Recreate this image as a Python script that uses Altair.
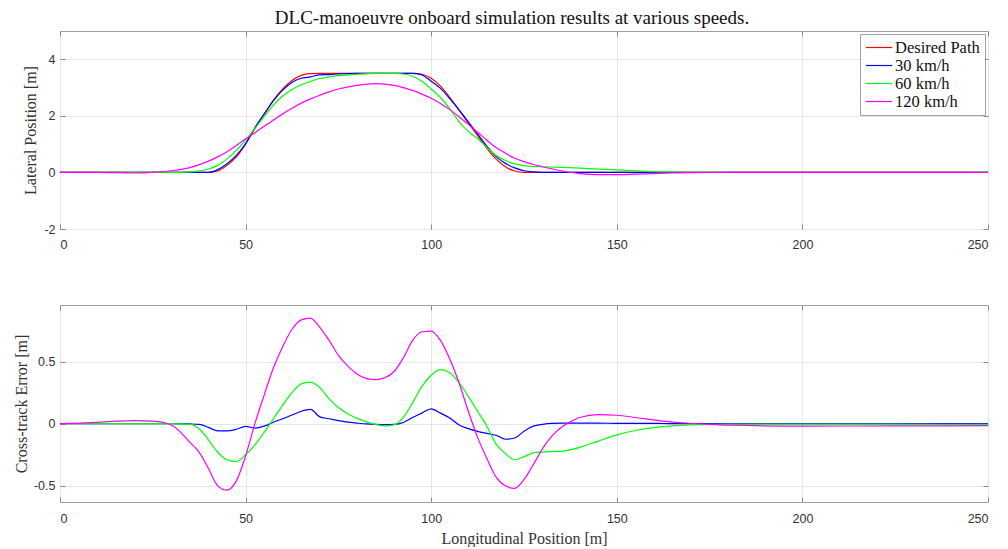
import altair as alt
import pandas as pd

SERIES = ["Desired Path", "30 km/h", "60 km/h", "120 km/h"]
COLORS = ["#ff0000", "#0000ff", "#00ff00", "#ff00ff"]
X_TICKS = [0, 50, 100, 150, 200, 250]
LAT_TICKS = [-2, 0, 2, 4]
ERR_TICKS = [-0.5, 0, 0.5]

# ---- Lateral position (top panel) ----
lat_x = [0, 10, 20, 25, 30, 35, 40,
         42.5, 45, 47.5, 50, 52.5, 55, 57.5, 60, 62.5, 65, 67.5, 70, 72.5, 75,
         80, 85, 90,
         92.5, 95, 97.5, 100, 102.5, 105, 107.5, 110, 112.5, 115, 117.5, 120, 122.5, 125, 127.5, 130,
         135, 140, 145, 150, 155, 160, 165, 170,
         180, 200, 225, 250]
lat_desired = [0, 0, 0, 0, 0, 0, 0,
               0.05, 0.25, 0.55, 1.0, 1.55, 2.05, 2.55, 2.95, 3.25, 3.43, 3.49, 3.5, 3.5, 3.5,
               3.5, 3.5, 3.5,
               3.5, 3.5, 3.47, 3.33, 3.05, 2.65, 2.2, 1.75, 1.3, 0.85, 0.47, 0.2, 0.05, 0, 0, 0,
               0, 0, 0, 0, 0, 0, 0, 0,
               0, 0, 0, 0]
lat_30 = [0, 0, 0, 0, 0, 0, 0,
          0.1, 0.31, 0.6, 1.02, 1.58, 2.07, 2.54, 2.91, 3.18, 3.33, 3.38, 3.45, 3.46, 3.48,
          3.5, 3.5, 3.5,
          3.5, 3.5, 3.45, 3.22, 2.97, 2.61, 2.21, 1.79, 1.36, 0.93, 0.56, 0.32, 0.16, 0.06, 0.02, 0.005,
          0, 0, 0, 0, 0, 0, 0, 0,
          0, 0, 0, 0]
lat_60 = [0, 0, 0, 0, 0, 0.02, 0.12,
          0.25, 0.48, 0.78, 1.15, 1.55, 1.98, 2.38, 2.7, 2.93, 3.1, 3.22, 3.32, 3.38, 3.42,
          3.47, 3.5, 3.5,
          3.48, 3.4, 3.22, 2.95, 2.65, 2.25, 1.8, 1.45, 1.2, 0.88, 0.6, 0.42, 0.3, 0.24, 0.21, 0.2,
          0.18, 0.15, 0.12, 0.09, 0.06, 0.03, 0.015, 0.005,
          0, 0, 0, 0]
lat_120 = [0, 0, -0.02, 0.0, 0.06, 0.17, 0.4,
           0.55, 0.73, 0.95, 1.18, 1.4, 1.63, 1.85, 2.07, 2.27, 2.45, 2.6, 2.73, 2.85, 2.95,
           3.08, 3.14, 3.08,
           3.0, 2.9, 2.77, 2.62, 2.44, 2.22, 1.97, 1.7, 1.42, 1.14, 0.88, 0.68, 0.5, 0.38, 0.28, 0.2,
           0.06, -0.04, -0.08, -0.08, -0.06, -0.04, -0.02, -0.005,
           0, 0, 0, 0]

# ---- Cross-track error (bottom panel) ----
err_x = [0, 10, 15, 20, 25, 30, 35,
         37.5, 40, 42.5, 45, 47.5, 50, 52.5, 55, 57.5, 60, 62.5, 65, 67.5, 70,
         72.5, 75, 77.5, 80, 82.5, 85, 87.5, 90, 92.5, 95, 97.5, 100, 102.5, 105,
         107.5, 110, 112.5, 115, 117.5, 120, 122.5, 125, 127.5, 130, 132.5, 135, 137.5, 140,
         145, 150, 155, 160, 165, 170, 175, 180,
         200, 225, 250]
err_30 = [0, 0, 0, 0, 0, 0, -0.002,
          -0.005, -0.03, -0.058, -0.058, -0.045, -0.022, -0.035, -0.02, 0.012, 0.04, 0.07, 0.1, 0.115, 0.055,
          0.04, 0.025, 0.013, 0.005, -0.002, -0.006, -0.008, -0.006, 0.01, 0.05, 0.085, 0.12, 0.085, 0.045,
          -0.01, -0.04, -0.062, -0.078, -0.093, -0.125, -0.115, -0.06, -0.02, -0.005, 0.003, 0.005, 0.005, 0.005,
          0.004, 0.003, 0.002, 0.002, 0.001, 0.001, 0, 0,
          0, 0, 0]
err_60 = [0, 0, 0, 0, 0, 0, -0.005,
          -0.04, -0.13, -0.23, -0.29, -0.305, -0.25, -0.17, -0.07, 0.04, 0.15, 0.25, 0.32, 0.335, 0.29,
          0.2, 0.13, 0.08, 0.045, 0.015, -0.005, -0.018, -0.01, 0.05, 0.17, 0.3, 0.39, 0.435, 0.41,
          0.33, 0.22, 0.1, -0.02, -0.165, -0.24, -0.29, -0.265, -0.235, -0.228, -0.224, -0.222, -0.21, -0.19,
          -0.14, -0.09, -0.055, -0.032, -0.018, -0.01, -0.005, -0.003,
          -0.003, -0.004, -0.005]
err_120 = [0, 0.01, 0.02, 0.025, 0.02, -0.01, -0.15,
           -0.23, -0.36, -0.5, -0.535, -0.46, -0.26, 0.0, 0.23, 0.45, 0.62, 0.76, 0.835, 0.85, 0.775,
           0.67, 0.55, 0.465, 0.4, 0.365, 0.355, 0.37, 0.42, 0.53, 0.67, 0.74, 0.745, 0.67, 0.52,
           0.33, 0.1, -0.11, -0.28, -0.43, -0.5, -0.52, -0.45, -0.33, -0.2, -0.1, -0.03, 0.015, 0.05,
           0.073, 0.068, 0.05, 0.03, 0.013, 0.003, -0.006, -0.012,
           -0.019, -0.018, -0.016]


def long_frame(xs, series_dict):
    rows = []
    for name in SERIES:
        if name in series_dict:
            for xv, yv in zip(xs, series_dict[name]):
                rows.append({"x": xv, "y": yv, "series": name})
    return pd.DataFrame(rows)


lat_df = long_frame(lat_x, {"Desired Path": lat_desired, "30 km/h": lat_30,
                            "60 km/h": lat_60, "120 km/h": lat_120})
err_df = long_frame(err_x, {"30 km/h": err_30, "60 km/h": err_60, "120 km/h": err_120})

SERIF = "Liberation Serif"
SANS = "Liberation Sans"
TICK_COLOR = "#8a8a8a"
INWARD = alt.ExprRef(expr="-5")

color_scale = alt.Scale(domain=SERIES, range=COLORS)
x_scale = alt.Scale(domain=[0, 250], nice=False)


def ghost_layer(df, y_scale, y_ticks):
    # invisible copy that carries the inward ticks of the top and right sides
    return alt.Chart(df).mark_line(opacity=0).encode(
        x=alt.X("x:Q", scale=x_scale,
                axis=alt.Axis(orient="top", values=X_TICKS, labels=False, title=None,
                              grid=False, ticks=True, tickSize=INWARD,
                              tickColor=TICK_COLOR)),
        y=alt.Y("y:Q", scale=y_scale,
                axis=alt.Axis(orient="right", values=y_ticks, labels=False, title=None,
                              grid=False, ticks=True, tickSize=INWARD,
                              tickColor=TICK_COLOR)),
        detail="series:N",
    )


lat_y_scale = alt.Scale(domain=[-2, 5], nice=False)
err_y_scale = alt.Scale(domain=[-0.63, 0.955], nice=False, zero=False)

top_lines = alt.Chart(lat_df).mark_line(strokeWidth=1.2, interpolate="monotone").encode(
    x=alt.X("x:Q", scale=x_scale,
            axis=alt.Axis(values=X_TICKS, title=None, labelExpr="datum.value",
                          labelPadding=14, ticks=True, tickSize=INWARD,
                          tickColor=TICK_COLOR)),
    y=alt.Y("y:Q", scale=lat_y_scale,
            axis=alt.Axis(values=LAT_TICKS, title="Lateral Position [m]",
                          labelExpr="datum.value", labelPadding=10, titlePadding=5,
                          ticks=True, tickSize=INWARD, tickColor=TICK_COLOR)),
    color=alt.Color("series:N", scale=color_scale, sort=SERIES,
                    legend=alt.Legend(title=None, orient="top-right", offset=3,
                                      symbolType="M-1,0H2.5", symbolSize=225,
                                      symbolStrokeWidth=1.2, labelFont=SERIF,
                                      labelFontSize=16.5, labelColor="#111",
                                      strokeColor="#a0a0a0", fillColor="white",
                                      padding=5, rowPadding=1, labelOffset=13)),
)

top_ghost = ghost_layer(lat_df, lat_y_scale, LAT_TICKS)

top = alt.layer(top_lines, top_ghost).resolve_axis(x="independent", y="independent").properties(
    width=928, height=198,
    title=alt.TitleParams("DLC-manoeuvre onboard simulation results at various speeds.",
                          font=SERIF, fontSize=19, fontWeight="normal", color="#111",
                          offset=3, dx=-12, anchor="middle"),
)

bottom_lines = alt.Chart(err_df).mark_line(strokeWidth=1.2, interpolate="monotone").encode(
    x=alt.X("x:Q", scale=x_scale,
            axis=alt.Axis(values=X_TICKS, title="Longitudinal Position [m]",
                          labelExpr="datum.value", labelPadding=15, titlePadding=6,
                          ticks=True, tickSize=INWARD, tickColor=TICK_COLOR)),
    y=alt.Y("y:Q", scale=err_y_scale,
            axis=alt.Axis(values=ERR_TICKS, title="Cross-track Error [m]",
                          labelExpr="datum.value", labelPadding=10, titlePadding=4,
                          ticks=True, tickSize=INWARD, tickColor=TICK_COLOR)),
    color=alt.Color("series:N", scale=color_scale, sort=SERIES, legend=None),
)

bottom_ghost = ghost_layer(err_df, err_y_scale, ERR_TICKS)

bottom = alt.layer(bottom_lines, bottom_ghost).resolve_axis(
    x="independent", y="independent").properties(width=928, height=197)

chart = alt.vconcat(top, bottom, spacing=53).resolve_scale(color="independent").properties(
    padding={"left": 4, "top": 0, "right": 5, "bottom": 0}
).configure_view(
    stroke="#a0a0a0", strokeWidth=1
).configure_axis(
    grid=True, gridColor="#e6e6e6", gridWidth=1, domain=False,
    labelFont=SANS, labelFontSize=12.5, labelColor="#333333",
    titleFont=SERIF, titleFontSize=16, titleFontWeight="normal", titleColor="#333333",
)

chart.save("out.html", embed_options={"renderer": "svg", "actions": False})
